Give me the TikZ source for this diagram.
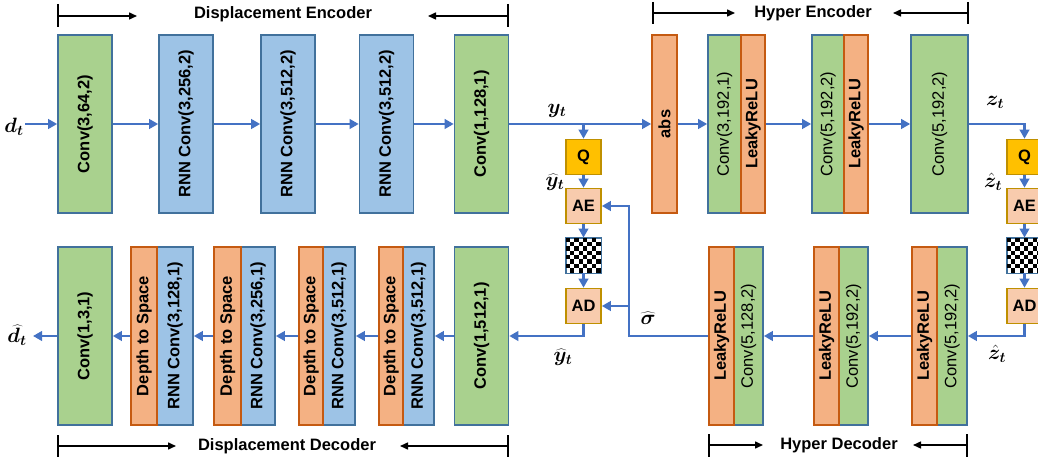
\documentclass[tikz,border=0pt]{standalone}
\usepackage{fontspec}
\setmainfont{Liberation Sans}
\usepackage{bm}
\usetikzlibrary{arrows.meta}
\definecolor{cgreen}{HTML}{A9D18E}
\definecolor{cblue}{HTML}{9DC3E6}
\definecolor{corange}{HTML}{F4B183}
\definecolor{dorange}{HTML}{C55A11}
\definecolor{bblue}{HTML}{41719C}
\definecolor{cline}{HTML}{4472C4}
\definecolor{cgold}{HTML}{FFC000}
\definecolor{dgold}{HTML}{BF9000}
\definecolor{cpeach}{HTML}{F8CBAD}
\newcommand\vtxt[1]{\rotatebox{90}{#1}}
\begin{document}
\begin{tikzpicture}[x=1pt,y=-1pt,
  blk/.style={draw=bblue, line width=1.6pt, inner sep=0pt, minimum height=178pt,
    font=\bfseries\fontsize{16.5}{18}\selectfont},
  gbox/.style={blk, fill=cgreen},
  gboxr/.style={blk, fill=cgreen, font=\mdseries\fontsize{16.5}{18}\selectfont},
  bbox/.style={blk, fill=cblue},
  obox/.style={blk, fill=corange, draw=dorange},
  ebox/.style={draw=dgold, line width=1.6pt, fill=cpeach, minimum width=35pt,
    minimum height=35pt, inner sep=0pt, font=\bfseries\fontsize{16.5}{18}\selectfont},
  qbox/.style={ebox, fill=cgold},
  chk/.style={draw=bblue, line width=0.8pt, minimum width=35pt, minimum height=35pt, inner sep=0pt},
  conn/.style={draw=cline, line width=2.6pt, -{Triangle[length=9pt,width=9.5pt]}},
  brk/.style={draw=black, line width=1.5pt, -{Triangle[length=8pt,width=7pt]}},
  tick/.style={draw=black, line width=2pt},
  ttl/.style={font=\bfseries\fontsize{16.5}{18}\selectfont, inner sep=0pt},
  mlab/.style={font=\fontsize{21}{23}\selectfont, inner sep=0pt}
]
\useasboundingbox (0,0) rectangle (1038,462);
\fill[white] (0,0) rectangle (1038,462);
\clip (0,0) rectangle (1038,462);

% ---------- top row: displacement encoder ----------
\node[gbox, minimum width=54pt] (e1) at (85,124) {\vtxt{Conv(3,64,2)}};
\node[bbox, minimum width=54pt] (e2) at (186,124) {\vtxt{RNN Conv(3,256,2)}};
\node[bbox, minimum width=54pt] (e3) at (288,124) {\vtxt{RNN Conv(3,512,2)}};
\node[bbox, minimum width=54pt] (e4) at (386.5,124) {\vtxt{RNN Conv(3,512,2)}};
\node[gbox, minimum width=54pt] (e5) at (481.5,124) {\vtxt{Conv(1,128,1)}};

% ---------- hyper encoder ----------
\node[obox, minimum width=25pt] (abs) at (664.5,124) {\vtxt{abs}};
\node[gboxr, minimum width=33pt] (h1g) at (724.5,124) {\vtxt{Conv(3,192,1)}};
\node[obox, minimum width=24pt] (h1o) at (753,124) {\vtxt{LeakyReLU}};
\node[gboxr, minimum width=32pt] (h2g) at (828,124) {\vtxt{Conv(5,192,2)}};
\node[obox, minimum width=24pt] (h2o) at (856,124) {\vtxt{LeakyReLU}};
\node[gboxr, minimum width=57pt] (h3) at (939.5,124) {\vtxt{Conv(5,192,2)}};

% ---------- bottom row: displacement decoder ----------
\node[gbox, minimum width=54pt] (d1) at (85,336) {\vtxt{Conv(1,3,1)}};
\node[bbox, minimum width=36pt] (d2b) at (175,336) {\vtxt{RNN Conv(3,128,1)}};
\node[obox, minimum width=26pt] (d2o) at (144,336) {\vtxt{Depth to Space}};
\node[bbox, minimum width=34pt] (d3b) at (258,336) {\vtxt{RNN Conv(3,256,1)}};
\node[obox, minimum width=27pt] (d3o) at (227.5,336) {\vtxt{Depth to Space}};
\node[bbox, minimum width=32pt] (d4b) at (339,336) {\vtxt{RNN Conv(3,512,1)}};
\node[obox, minimum width=24pt] (d4o) at (311,336) {\vtxt{Depth to Space}};
\node[bbox, minimum width=31pt] (d5b) at (418.5,336) {\vtxt{RNN Conv(3,512,1)}};
\node[obox, minimum width=24pt] (d5o) at (391,336) {\vtxt{Depth to Space}};
\node[gbox, minimum width=54pt] (d6) at (481.5,336) {\vtxt{Conv(1,512,1)}};

% ---------- hyper decoder ----------
\node[gboxr, minimum width=29pt] (hd1g) at (748.5,336) {\vtxt{Conv(5,128,2)}};
\node[obox, minimum width=25pt] (hd1o) at (721.5,336) {\vtxt{LeakyReLU}};
\node[gboxr, minimum width=29pt] (hd2g) at (853.5,336) {\vtxt{Conv(5,192,2)}};
\node[obox, minimum width=25pt] (hd2o) at (826.5,336) {\vtxt{LeakyReLU}};
\node[gboxr, minimum width=30pt] (hd3g) at (952,336) {\vtxt{Conv(5,192,2)}};
\node[obox, minimum width=25pt] (hd3o) at (924.5,336) {\vtxt{LeakyReLU}};

% ---------- entropy coding columns ----------
\node[qbox] (q1) at (583.5,157) {Q};
\node[ebox] (ae1) at (583.5,206) {AE};
\node[chk] (c1) at (583.5,255.5) {};
\node[ebox] (ad1) at (583.5,306) {AD};
\node[qbox] (q2) at (1024.5,157) {Q};
\node[ebox] (ae2) at (1024.5,206) {AE};
\node[chk] (c2) at (1024.5,255.5) {};
\node[ebox] (ad2) at (1024.5,306) {AD};
\foreach \c in {c1,c2}{
  \foreach \i in {0,...,7}{
    \foreach \k in {0,...,3}{
      \pgfmathsetmacro{\jj}{2*\k+mod(\i,2)}
      \fill[black] ([shift={(\jj*4.375,\i*4.375)}]\c.north west) rectangle ++(4.375,4.375);
    }
  }
  \draw[bblue, line width=0.8pt] (\c.north west) rectangle (\c.south east);
}

% ---------- connectors ----------
\coordinate (din) at (25,124);
\coordinate (dout) at (33,336);
\draw[conn] (din) -- (e1.west);
\draw[conn] (e1.east) -- (e2.west);
\draw[conn] (e2.east) -- (e3.west);
\draw[conn] (e3.east) -- (e4.west);
\draw[conn] (e4.east) -- (e5.west);
\draw[conn] (e5.east) -- (abs.west);
\draw[conn] (q1.north |- e5.east) -- (q1.north);
\draw[conn] (abs.east) -- (h1g.west);
\draw[conn] (h1o.east) -- (h2g.west);
\draw[conn] (h2o.east) -- (h3.west);
\draw[conn] (h3.east) -| (q2.north);

\draw[conn] (q1.south) -- (ae1.north);
\draw[conn] (ae1.south) -- (c1.north);
\draw[conn] (c1.south) -- (ad1.north);
\draw[conn] (q2.south) -- (ae2.north);
\draw[conn] (ae2.south) -- (c2.north);
\draw[conn] (c2.south) -- (ad2.north);

\draw[conn] (ad1.south) |- (d6.east);
\draw[conn] (d6.west) -- (d5b.east);
\draw[conn] (d5o.west) -- (d4b.east);
\draw[conn] (d4o.west) -- (d3b.east);
\draw[conn] (d3o.west) -- (d2b.east);
\draw[conn] (d2o.west) -- (d1.east);
\draw[conn] (d1.west) -- (dout);

\draw[conn] (ad2.south) |- (hd3g.east);
\draw[conn] (hd3o.west) -- (hd2g.east);
\draw[conn] (hd2o.west) -- (hd1g.east);
\coordinate (sx) at (629,336);
\draw[conn] (hd1o.west) -- (sx) |- (ae1.east);
\draw[conn] (sx |- ad1.east) -- (ad1.east);

% ---------- math labels ----------
\node[mlab] (ldt) at (14,127) {$\bm{d}_{\bm{t}}$};
\node[mlab] (lyt) at (557,111) {$\bm{y}_{\bm{t}}$};
\node[mlab] (lyh) at (555,182) {$\widehat{\bm{y}}_{\bm{t}}$};
\node[mlab] (lyh2) at (563,357) {$\widehat{\bm{y}}_{\bm{t}}$};
\node[mlab] (lsg) at (648,318) {$\widehat{\bm{\sigma}}$};
\node[mlab] (lzt) at (995,102) {$\bm{z}_{\bm{t}}$};
\node[mlab] (lzh) at (993,182) {$\hat{\bm{z}}_{\bm{t}}$};
\node[mlab] (lzh2) at (997,354) {$\hat{\bm{z}}_{\bm{t}}$};
\node[mlab] (ldh) at (17,335) {$\widehat{\bm{d}}_{\bm{t}}$};

% ---------- section titles ----------
\node[ttl] (tde) at (283,14) {Displacement Encoder};
\coordinate (de1) at (58,16); \coordinate (de2) at (508,16);
\draw[tick] (58,4) -- (58,27); \draw[tick] (508,4) -- (508,27);
\draw[brk] (de1) -- (137,16);
\draw[brk] (de2) -- (428,16);

\node[ttl] (the) at (813,13) {Hyper Encoder};
\coordinate (he1) at (653,13); \coordinate (he2) at (968,13);
\draw[tick] (653,2) -- (653,24); \draw[tick] (968,2) -- (968,24);
\draw[brk] (he1) -- (735,13);
\draw[brk] (he2) -- (893,13);

\node[ttl] (tdd) at (287,446) {Displacement Decoder};
\coordinate (dd1) at (58,446); \coordinate (dd2) at (508,446);
\draw[tick] (58,435) -- (58,457); \draw[tick] (508,435) -- (508,457);
\draw[brk] (dd1) -- (176,446);
\draw[brk] (dd2) -- (400,446);

\node[ttl] (thd) at (839,445) {Hyper Decoder};
\coordinate (hd1) at (709,445); \coordinate (hd2) at (967,445);
\draw[tick] (709,434) -- (709,457); \draw[tick] (967,434) -- (967,457);
\draw[brk] (hd1) -- (763,445);
\draw[brk] (hd2) -- (913,445);
\end{tikzpicture}
\end{document}
